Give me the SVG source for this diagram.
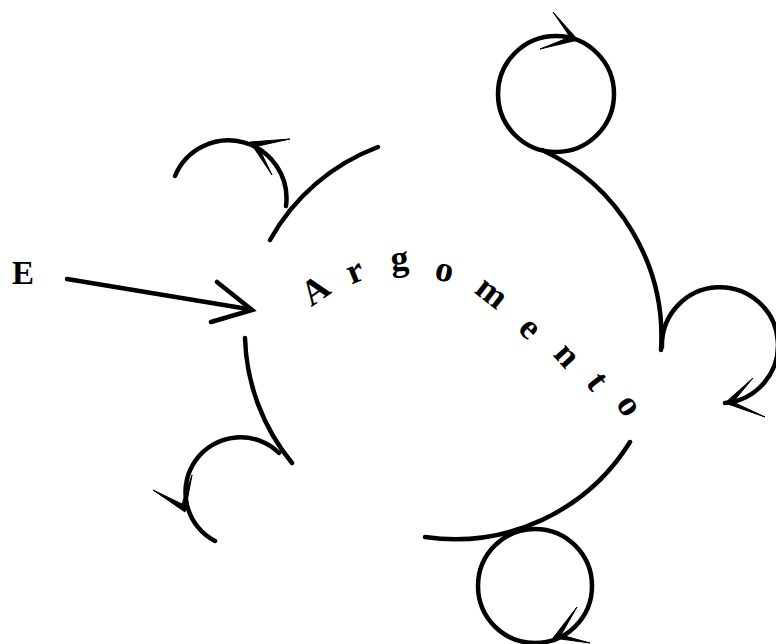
<svg xmlns="http://www.w3.org/2000/svg" width="776" height="644" viewBox="0 0 776 644">
<style>
.arc{fill:none;stroke:#000;stroke-width:4.5;stroke-linecap:round}
.head{fill:#000;stroke:#000;stroke-width:1;stroke-linejoin:miter}
.lbl{font-family:"Liberation Serif","Times New Roman",serif;font-weight:bold;font-size:36px;fill:#000;text-anchor:middle}
</style>
<rect width="776" height="644" fill="#fff"/>
<g id="connectors">
  <path class="arc" d="M67,279 L248,309"/>
  <path d="M217,282 L252,310 L211,322" fill="none" stroke="#000" stroke-width="4.5" stroke-linejoin="miter" stroke-linecap="round"/>
</g>
<g id="argomento">
  <path class="arc" d="M378,147 A206,206 0 0 0 270,240"/>
  <path class="arc" d="M245,338 A206,206 0 0 0 292,463"/>
  <path class="arc" d="M425,537 A206,206 0 0 0 630,442"/>
  <path class="arc" d="M542,150 A206,206 0 0 1 661,350"/>
  <g class="lbl">
    <text transform="translate(315,290) rotate(-35)" y="12">A</text>
    <text transform="translate(356,274) rotate(-22)" y="8">r</text>
    <text transform="translate(400,266) rotate(-5)" y="4">g</text>
    <text transform="translate(444,273) rotate(12)" y="8">o</text>
    <text transform="translate(490,295) rotate(38)" y="8">m</text>
    <text transform="translate(528,330) rotate(45)" y="8">e</text>
    <text transform="translate(565,357) rotate(48)" y="8">n</text>
    <text transform="translate(595,383) rotate(52)" y="8">t</text>
    <text transform="translate(627,407) rotate(55)" y="8">o</text>
  </g>
</g>
<g id="E">
  <text class="lbl" x="23" y="284" style="font-size:33px">E</text>
</g>
<g id="loop-top-left">
  <path class="arc" d="M286,206 A58,58 0 0 0 175,176"/>
  <polygon class="head" points="250,142 290,139 258,146 272,175"/>
</g>
<g id="loop-top-right">
  <circle class="arc" cx="556" cy="94" r="58"/>
  <polygon class="head" points="578,40 553,12 570,37 540,49"/>
</g>
<g id="loop-right">
  <path class="arc" d="M662,347 A58,58 0 1 1 725,403"/>
  <polygon class="head" points="725,403 753,378 733,402 765,417"/>
</g>
<g id="loop-bottom">
  <circle class="arc" cx="535" cy="586" r="57"/>
  <polygon class="head" points="553,638 577,607 561,635 590,643"/>
</g>
<g id="loop-bottom-left">
  <path class="arc" d="M279,453 A55,55 0 1 0 215,541"/>
  <polygon class="head" points="185,512 153,490 182,504 192,475"/>
</g>
</svg>
